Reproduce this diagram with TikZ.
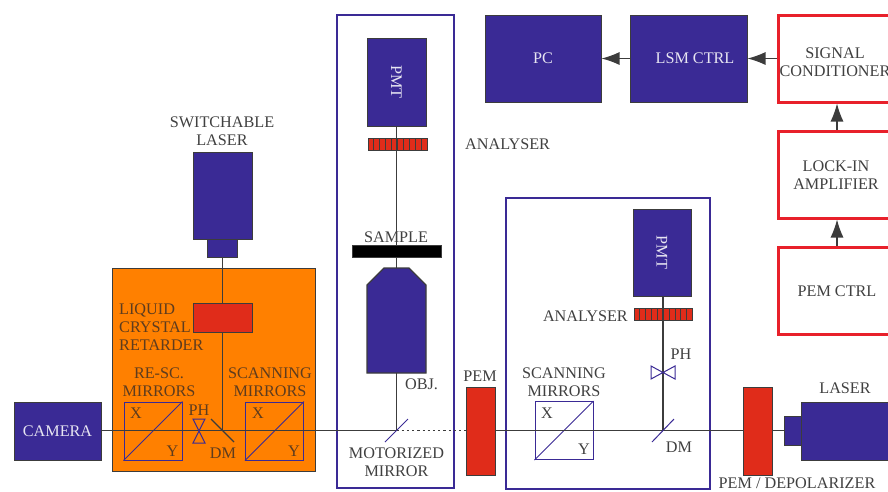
\documentclass[tikz,border=0pt]{standalone}
\usepackage{fontspec}
\setmainfont{Liberation Serif}
\usepackage{xcolor}
\usetikzlibrary{arrows.meta, calc}
\definecolor{deviceblue}{HTML}{3A2A95}
\definecolor{filterred}{HTML}{E02C1A}
\definecolor{panelorange}{HTML}{FF8000}
\definecolor{ctrlred}{HTML}{E8202A}
\definecolor{wiregray}{HTML}{3C3C3C}
\definecolor{labelgray}{HTML}{404040}
\definecolor{labelbrown}{HTML}{5E3C1E}

\begin{document}
\begin{tikzpicture}[
    x=1pt, y=-1pt,
    box/.style={draw=wiregray, line width=1pt, inner sep=0pt, align=center, font=\fontsize{16.2}{18}\selectfont},
    device/.style={box, fill=deviceblue, text=white!88!deviceblue},
    redpart/.style={box, fill=filterred},
    ctrl/.style={box, draw=ctrlred, line width=3pt, fill=white, text=labelgray, minimum width=118, minimum height=87},
    housing/.style={draw=deviceblue, line width=2.8pt, inner sep=0pt},
    scanbox/.style={draw=deviceblue, line width=1pt, inner sep=0pt, minimum width=58, minimum height=58},
    optic/.style={draw=deviceblue, line width=1pt},
    tag/.style={inner sep=0pt, align=center, text=labelgray, font=\fontsize{16.2}{18}\selectfont},
    panelTag/.style={tag, text=labelbrown},
    wire/.style={draw=wiregray, line width=1.1pt},
    arrow/.style={wire, -{Latex[length=18pt, width=13pt]}}
  ]
    \useasboundingbox (0,0) rectangle (888,491);
    \clip (0,0) rectangle (888,491);
    % panels
    \node[box, fill=panelorange, minimum width=203, minimum height=203] (panel) at (213.5,369.5) {};
    \node[housing, minimum width=117, minimum height=473] (upright) at (395.5,251.5) {};
    \node[housing, minimum width=204, minimum height=291] (inverted) at (608,343.5) {};
    % controllers
    \node[device, minimum width=116, minimum height=87] (pc) at (543,58.5) {\raisebox{-1pt}{PC}};
    \node[device, minimum width=117, minimum height=87] (lsm) at (688.5,58.5) {\raisebox{-1pt}{\hspace{13pt}LSM CTRL}};
    \node[ctrl] (signal) at (837,58.5) {};
    \node[ctrl] (lockin) at (837,174.5) {};
    \node[ctrl] (pemctrl) at (837,291) {PEM CTRL};
    \node[tag] (signaltext) at (835,62) {SIGNAL\\CONDITIONER};
    \node[tag] (lockintext) at (836,175) {LOCK-IN\\AMPLIFIER};
    \draw[arrow] (lsm) -- (pc);
    \draw[arrow] (signal) -- (lsm);
    \draw[arrow] (lockin) -- (signal);
    \draw[arrow] (pemctrl) -- (lockin);
    % sources and detectors
    \node[device, minimum width=87, minimum height=58] (camera) at (57.5,431) {\raisebox{-1pt}{CAMERA}};
    \node[device, minimum width=59, minimum height=87] (swlaser) at (222.5,195.5) {};
    \node[device, minimum width=30, minimum height=18] (swhead) at (222.5,248) {};
    \node[device, minimum width=87, minimum height=58] (laser) at (844.5,431) {};
    \node[device, minimum width=17, minimum height=29] (laserhead) at (792.5,430.5) {};
    \node[device, minimum width=59, minimum height=88] (pmtup) at (396.5,82) {\rotatebox{-90}{PMT}};
    \node[device, minimum width=58, minimum height=87] (pmtin) at (662,252.5) {\rotatebox{-90}{PMT}};
    % red elements
    \node[redpart, minimum width=59, minimum height=29] (retarder) at (222.5,317.5) {};
    \node[redpart, minimum width=29, minimum height=88] (pemleft) at (480.5,431) {};
    \node[redpart, minimum width=29, minimum height=88] (pemright) at (757.5,431) {};
    \node[redpart, minimum width=59, minimum height=12] (anaup) at (397.5,144) {};
    \node[redpart, minimum width=58, minimum height=12] (anain) at (663,314) {};
    \foreach \i in {1,...,9} {
      \draw[wiregray, line width=0.5pt] ($(anaup.south west)!\i/10!(anaup.south east)$) -- ($(anaup.north west)!\i/10!(anaup.north east)$);
      \draw[wiregray, line width=0.5pt] ($(anain.south west)!\i/10!(anain.south east)$) -- ($(anain.north west)!\i/10!(anain.north east)$);
    }
    \node[box, fill=black, minimum width=89, minimum height=12] (sample) at (396.5,251) {};
    % objective
    \coordinate (objtop) at (396.5,268);
    \coordinate (objbottom) at (396.5,373);
    \draw[wire, fill=deviceblue] (384,268) -- (409,268) -- (426,285) -- (426,373) -- (367,373) -- (367,285) -- cycle;
    % scanning mirrors
    \node[scanbox] (resc) at (153,431) {};
    \node[scanbox] (scanleft) at (274.5,431) {};
    \node[scanbox] (scanright) at (564,430.5) {};
    \foreach \m in {resc, scanleft, scanright}
      \draw[optic] (\m.south west) -- (\m.north east);
    % beam junctions
    \coordinate (dmleft) at (222.5,430.5);
    \coordinate (mirror) at (396.5,430.5);
    \coordinate (dmright) at (663,430.5);
    \draw[wire] (camera.east |- mirror) -- (mirror);
    \draw[wire, dash pattern=on 2.2pt off 3pt] (mirror) -- (pemleft.west |- mirror);
    \draw[wire] (pemleft.east |- mirror) -- (pemright.west |- mirror);
    \draw[wire] (pemright.east |- mirror) -- (laserhead.west |- mirror);
    \draw[wire] (swhead) -- (retarder);
    \draw[wire] (retarder) -- (dmleft);
    \draw[wire] (pmtup.south) -- (sample.north);
    \draw[wire] (sample.south) -- (objtop);
    \draw[wire] (objbottom) -- (mirror);
    \draw[wire] (pmtin.south -| dmright) -- (dmright);
    % small optics
    \draw[wire] ($(dmleft)+(-11.5,-11.5)$) -- ($(dmleft)+(11.5,11.5)$);
    \draw[optic] ($(mirror)+(-11.5,11.5)$) -- ($(mirror)+(11.5,-11.5)$);
    \draw[optic] ($(dmright)+(-11,11.5)$) -- ($(dmright)+(11,-11.5)$);
    \draw[optic] (193,419) -- (205,419) -- (193,443) -- (205,443) -- cycle;
    \draw[optic] (651,366) -- (651,379) -- (675,366) -- (675,379) -- cycle;
    % labels
    \node[tag] (swlabel) at (222,131) {SWITCHABLE\\LASER};
    \node[panelTag, align=left, anchor=west] (retlabel) at (119,327) {LIQUID\\CRYSTAL\\RETARDER};
    \node[panelTag] (resclabel) at (159,382) {RE-SC.\\MIRRORS};
    \node[panelTag] (scanllabel) at (270,382) {SCANNING\\MIRRORS};
    \node[panelTag] (x1) at (136,413) {X};
    \node[panelTag] (y1) at (172.5,451) {Y};
    \node[panelTag] (x2) at (258,413) {X};
    \node[panelTag] (y2) at (294,451) {Y};
    \node[panelTag] (ph1) at (199,410) {PH};
    \node[panelTag] (dm1) at (223,453) {DM};
    \node[tag, anchor=west] (anauplabel) at (465,144) {ANALYSER};
    \node[tag] (samplelabel) at (396,237) {SAMPLE};
    \node[tag] (objlabel) at (421.5,384) {OBJ.};
    \node[tag] (mirrorlabel) at (396.5,462) {MOTORIZED\\MIRROR};
    \node[tag] (pemllabel) at (480,376) {PEM};
    \node[tag] (scanrlabel) at (564,382) {SCANNING\\MIRRORS};
    \node[tag] (x3) at (547,413) {X};
    \node[tag] (y3) at (584,449) {Y};
    \node[tag, anchor=east] (anainlabel) at (628,316) {ANALYSER};
    \node[tag] (ph2) at (681,354) {PH};
    \node[tag] (dm2) at (679,447) {DM};
    \node[tag] (laserlabel) at (845,388) {LASER};
    \node[tag] (pemrlabel) at (797,483.5) {PEM / DEPOLARIZER};
  \end{tikzpicture}
\end{document}
